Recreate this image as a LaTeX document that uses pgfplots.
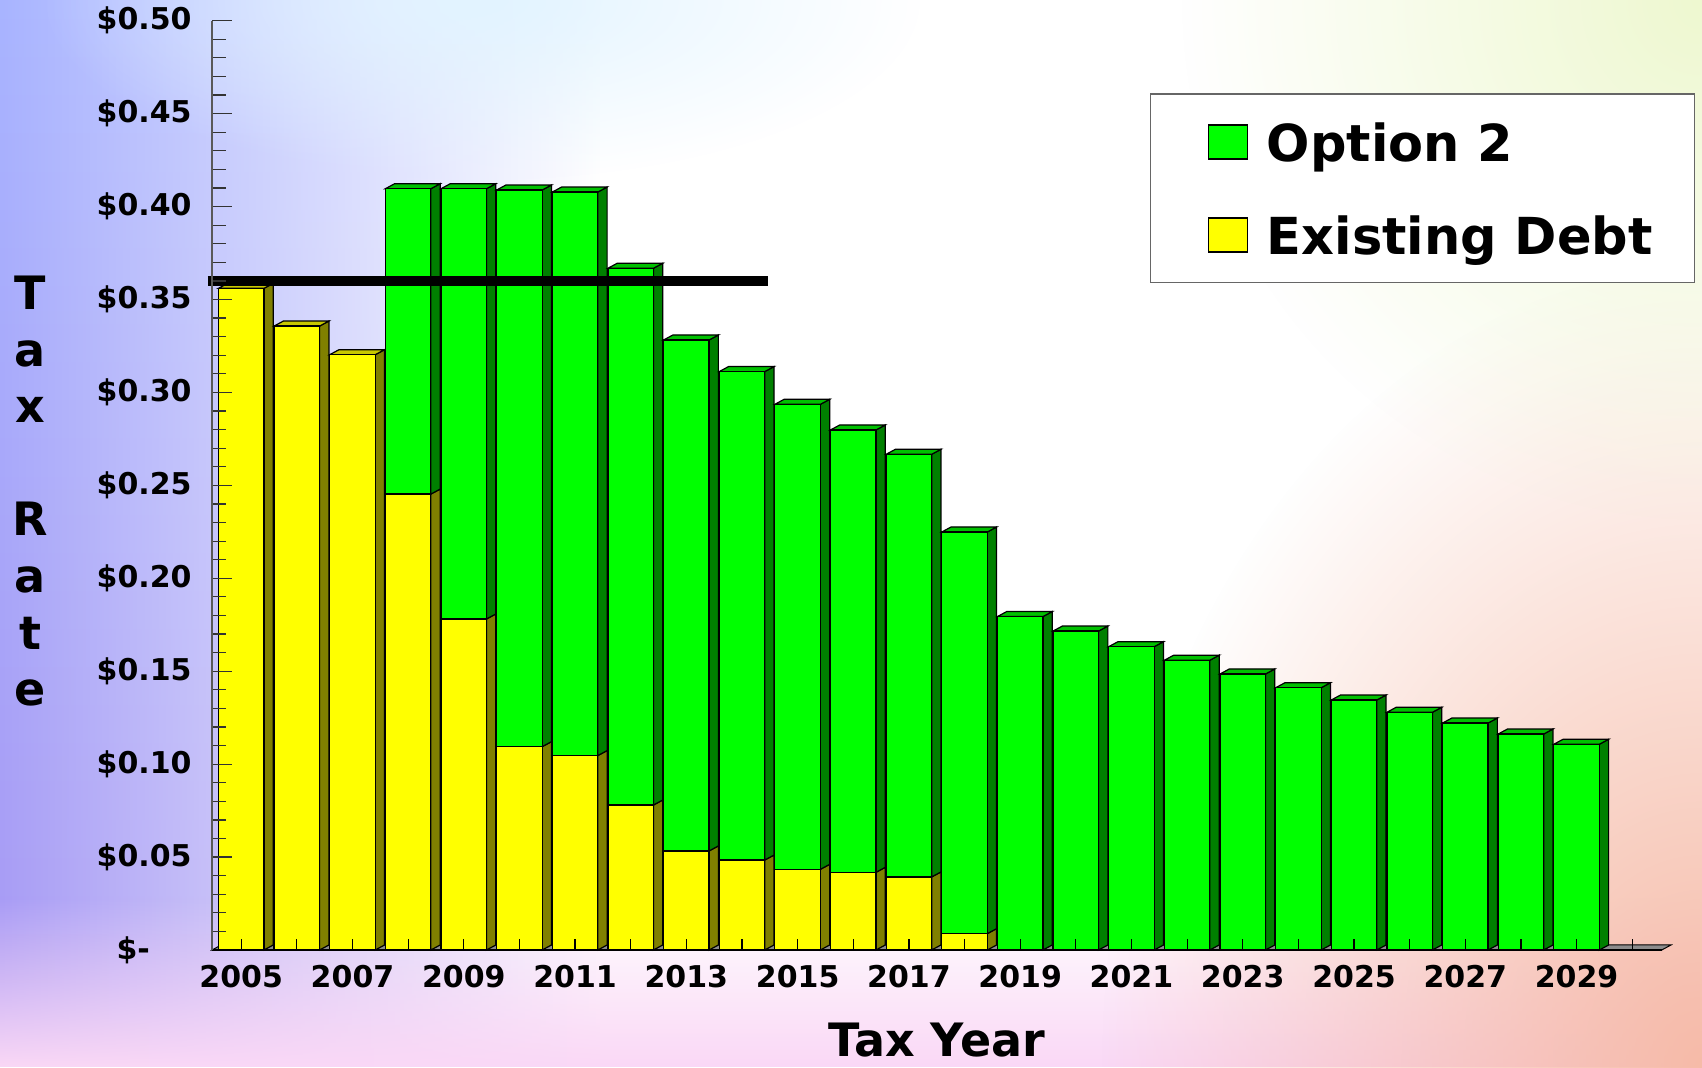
\documentclass[border=0pt]{standalone}
\usepackage{pgfplots}
\pgfplotsset{compat=1.18}
\usepackage{pgfplotstable}
\usepackage{fontspec}
\setmainfont{DejaVu Sans}
\usetikzlibrary{fadings}

% bar faces
\definecolor{barYel}{HTML}{FFFF00}
\definecolor{barYelSide}{HTML}{808000}
\definecolor{barYelTop}{HTML}{C8C800}
\definecolor{barGrn}{HTML}{00FF00}
\definecolor{barGrnSide}{HTML}{008000}
\definecolor{barGrnTop}{HTML}{00C000}
% backdrop
\definecolor{bgTL}{HTML}{A8B4FF}
\definecolor{bgBL}{HTML}{A898F3}
\definecolor{bgPink}{HTML}{FAD8F6}
\definecolor{bgPeach}{HTML}{F6BBA8}
\definecolor{bgLime}{HTML}{EEF8D0}
\definecolor{bgCyan}{HTML}{E2F4FF}

\tikzfading[name=faderight, left color=transparent!0, right color=transparent!100]
\tikzfading[name=fadeup, bottom color=transparent!0, top color=transparent!100]
\tikzfading[name=fadeout, inner color=transparent!0, outer color=transparent!100]

% tax rate per year: existing debt and the Option 2 increment
\pgfplotstableread{
year debt opt
2005 0.3560 0
2006 0.3357 0
2007 0.3203 0
2008 0.2453 0.1643
2009 0.1781 0.2315
2010 0.1094 0.2995
2011 0.1046 0.3032
2012 0.0780 0.2888
2013 0.0533 0.2749
2014 0.0484 0.2628
2015 0.0434 0.2502
2016 0.0418 0.2380
2017 0.0393 0.2274
2018 0.0088 0.2161
2019 0 0.1794
2020 0 0.1716
2021 0 0.1632
2022 0 0.1559
2023 0 0.1485
2024 0 0.1411
2025 0 0.1345
2026 0 0.1279
2027 0 0.1221
2028 0 0.1162
2029 0 0.1107
}\ratetable

% bar geometry (axis units): half width, depth offsets
\def\hw{0.409}
\def\dx{0.167}
\def\dy{0.0027}

\begin{document}
\begin{tikzpicture}
\useasboundingbox (0,0) rectangle (851pt,533.5pt);
% backdrop gradient
\fill[white] (0,0) rectangle (851pt,533.5pt);
\shade[top color=bgTL, bottom color=bgBL, path fading=faderight] (0,0) rectangle (300pt,533.5pt);
\fill[bgPink, path fading=fadeup] (0,0) rectangle (851pt,85pt);
\fill[bgPeach, path fading=fadeout] (851pt,0pt) ellipse (300pt and 400pt);
\fill[bgLime, path fading=fadeout] (851pt,533.5pt) ellipse (260pt and 260pt);
\fill[bgCyan, path fading=fadeout] (240pt,533.5pt) ellipse (220pt and 90pt);

\begin{axis}[
  at={(106pt,58.5pt)}, anchor=south west,
  scale only axis, width=724.85pt, height=464.65pt,
  xmin=2004.475, xmax=2030.53, ymin=0, ymax=0.5,
  clip=false, axis on top,
  axis x line=bottom, axis y line=left,
  axis line style={-},
  x axis line style={black, line width=0.8pt},
  y axis line style={black!65, line width=0.8pt},
  tick align=inside,
  major tick length=9.8pt, minor tick length=7pt,
  xtick={2005,2007,...,2029},
  xticklabels={2005,2007,2009,2011,2013,2015,2017,2019,2021,2023,2025,2027,2029},
  minor xtick={2006,2008,...,2030},
  xtick style={/pgfplots/major tick length=5.5pt, /pgfplots/minor tick length=5.5pt, black, line width=0.6pt},
  ytick={0,0.05,0.1,0.15,0.2,0.25,0.3,0.35,0.4,0.45,0.5},
  yticklabels={\$-\hphantom{00},\$0.05,\$0.10,\$0.15,\$0.20,\$0.25,\$0.30,\$0.35,\$0.40,\$0.45,\$0.50},
  minor y tick num=4,
  ytick style={black!80, line width=0.6pt},
  tick label style={font=\fontsize{15}{18}\selectfont\bfseries},
  yticklabel style={anchor=east, inner sep=0pt, xshift=-10pt},
  xticklabel style={anchor=north, inner sep=0pt, yshift=-7.5pt},
  xlabel={Tax Year},
  xlabel style={font=\fontsize{23}{27}\selectfont\bfseries, at={(axis description cs:0.5,-0.1145)}, anchor=base},
  ylabel={T\\a\\x\\[28.3pt]R\\a\\t\\e},
  ylabel style={rotate=-90, align=center, font=\fontsize{23}{28.3}\selectfont\bfseries,
    at={(axis description cs:-0.1255,0.4938)}, anchor=center, inner sep=0pt},
  legend image code/.code={%
    \path (-28.9pt,0pt) (28.8pt,0pt);
    \draw[#1, draw=black, line width=0.6pt] (0pt,-8.5pt) rectangle (19.5pt,8.5pt);},
  legend style={at={(0.6468,0.9218)}, anchor=north west,
    draw=black!60, line width=0.6pt, fill=white,
    inner xsep=0pt, inner ysep=14.3pt, row sep=27.1pt,
    nodes={inner sep=0pt, text depth=0pt},
    font=\fontsize{25.5}{30}\selectfont\bfseries},
  legend cell align=left,
]

% floor under the bars
\addplot[fill=black!45, draw=black, line width=0.5pt, forget plot]
  coordinates {(2004.475,0) (2030.53,0) (2030.697,0.0027) (2004.642,0.0027)} -- cycle;

% side and top faces of every bar
\pgfplotstablegetrowsof{\ratetable}
\pgfmathtruncatemacro\lastrow{\pgfplotsretval-1}
\pgfplotsforeachungrouped \rowidx in {0,...,\lastrow}{%
  \pgfplotstablegetelem{\rowidx}{year}\of\ratetable \let\yr\pgfplotsretval
  \pgfplotstablegetelem{\rowidx}{debt}\of\ratetable \let\dv\pgfplotsretval
  \pgfplotstablegetelem{\rowidx}{opt}\of\ratetable \let\ov\pgfplotsretval
  \pgfmathsetmacro\xl{\yr-\hw}%
  \pgfmathsetmacro\xr{\yr+\hw}%
  \pgfmathsetmacro\xlb{\xl+\dx}%
  \pgfmathsetmacro\xrb{\xr+\dx}%
  \pgfmathsetmacro\tv{\dv+\ov}%
  \pgfmathsetmacro\dvb{\dv+\dy}%
  \pgfmathsetmacro\tvb{\tv+\dy}%
  \ifdim\dv pt>0pt
    \edef\cmd{\noexpand\addplot[fill=barYelSide, draw=black, line width=0.6pt, forget plot]
      coordinates {(\xr,0) (\xrb,\dy) (\xrb,\dvb) (\xr,\dv)} -- cycle;}\cmd
  \fi
  \ifdim\ov pt>0pt
    \edef\cmd{\noexpand\addplot[fill=barGrnSide, draw=black, line width=0.6pt, forget plot]
      coordinates {(\xr,\dv) (\xrb,\dvb) (\xrb,\tvb) (\xr,\tv)} -- cycle;}\cmd
    \edef\cmd{\noexpand\addplot[fill=barGrnTop, draw=black, line width=0.6pt, forget plot]
      coordinates {(\xl,\tv) (\xr,\tv) (\xrb,\tvb) (\xlb,\tvb)} -- cycle;}\cmd
  \else
    \edef\cmd{\noexpand\addplot[fill=barYelTop, draw=black, line width=0.6pt, forget plot]
      coordinates {(\xl,\tv) (\xr,\tv) (\xrb,\tvb) (\xlb,\tvb)} -- cycle;}\cmd
  \fi
}

% front faces: total height in green, existing debt over it in yellow
\addplot[ybar, bar width=0.818, bar shift=0pt, fill=barGrn, draw=black, line width=0.6pt, forget plot]
  table[x=year, y expr=\thisrow{debt}+\thisrow{opt}] {\ratetable};
\addplot[ybar, bar width=0.818, bar shift=0pt, fill=barYel, draw=black, line width=0.6pt, forget plot]
  table[x=year, y=debt] {\ratetable};

% rate ceiling
\addplot[black, line width=5pt, forget plot] coordinates {(2004.40,0.36) (2014.47,0.36)};

\addlegendimage{fill=barGrn}
\addlegendentry{Option 2}
\addlegendimage{fill=barYel}
\addlegendentry{Existing Debt\hspace*{20.7pt}}
\end{axis}
\end{tikzpicture}
\end{document}
